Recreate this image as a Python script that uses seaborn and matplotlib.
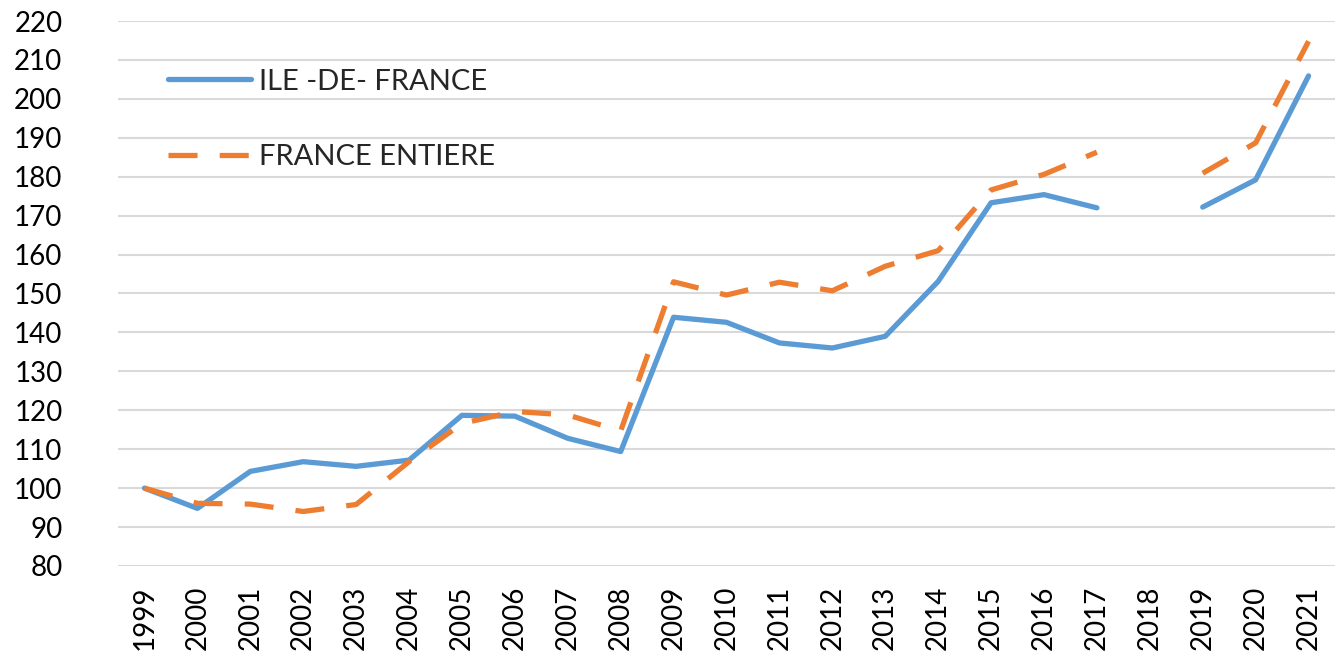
import numpy as np
import pandas as pd
import matplotlib
matplotlib.use("Agg")
import matplotlib.pyplot as plt
import seaborn as sns
from matplotlib.lines import Line2D

years = [str(y) for y in range(1999, 2022)]
idf = [100, 94.8, 104.3, 106.8, 105.6, 107.2, 118.7, 118.5, 112.8, 109.4,
       143.9, 142.6, 137.3, 136.0, 139.0, 153.1, 173.3, 175.4, 172.0, np.nan,
       172.2, 179.2, 205.9]
france = [100, 96.1, 95.9, 94.0, 95.8, 106.8, 116.6, 119.7, 118.8, 114.7,
          153.0, 149.6, 152.9, 150.7, 157.0, 161.0, 176.6, 180.6, 186.3, np.nan,
          180.9, 188.7, 214.8]
series_names = ["ILE -DE- FRANCE", "FRANCE ENTIERE"]
colors = ["#5B9BD5", "#ED7D31"]

sns.set_theme(style="white")
plt.rcParams['font.family'] = ['Lato', 'DejaVu Sans']

fig = plt.figure(figsize=(13.35, 6.56), dpi=100)
ax = fig.add_axes([118 / 1335, 1 - 566 / 656, 1 - 118 / 1335, (566 - 21) / 656])

rows = []
for name, vals in zip(series_names, [idf, france]):
    seg = 0
    for i, (yr, v) in enumerate(zip(years, vals)):
        if np.isnan(v):
            seg += 1
            continue
        rows.append({"series": name, "pos": i, "year": yr, "value": v, "segment": seg})
df = pd.DataFrame(rows)

styles = {
    series_names[0]: dict(linestyle="-", lw=3.8),
    series_names[1]: dict(dashes=(5.5, 4.2), lw=3.8),
}
for name, col in zip(series_names, colors):
    sub = df[df.series == name]
    for seg, g in sub.groupby("segment"):
        line_kw = dict(styles[name])
        sns.lineplot(data=g, x="pos", y="value", ax=ax, color=col,
                     estimator=None, sort=False, legend=False,
                     solid_capstyle="round", dash_capstyle="butt", **line_kw)

ax.set_xlim(-0.5, 22.5)
ax.set_ylim(80, 220)
ax.set_yticks(np.arange(80, 221, 10))
ax.set_xticks(range(len(years)))
ax.set_xticklabels(years, rotation=90)
ax.set_xlabel("")
ax.set_ylabel("")
ax.grid(axis="y", color="#D9D9D9", lw=1.5)
ax.grid(axis="x", visible=False)
for s in ax.spines.values():
    s.set_visible(False)
ax.tick_params(axis="y", labelsize=20, length=0, pad=40, colors="black")
ax.tick_params(axis="x", labelsize=20, length=0, pad=14, colors="black")

handles = [
    Line2D([], [], color=colors[0], lw=3.8, solid_capstyle="round"),
    Line2D([], [], color=colors[1], lw=3.8, dashes=(5.5, 4.2)),
]
leg = ax.legend(handles, series_names, loc="upper left",
                bbox_to_anchor=(38 / 1217, 1 - 36 / 545), frameon=False,
                fontsize=21, handlelength=2.85, handletextpad=0.28,
                labelspacing=1.7, borderaxespad=0)

fig.savefig("out.png", dpi=100)
